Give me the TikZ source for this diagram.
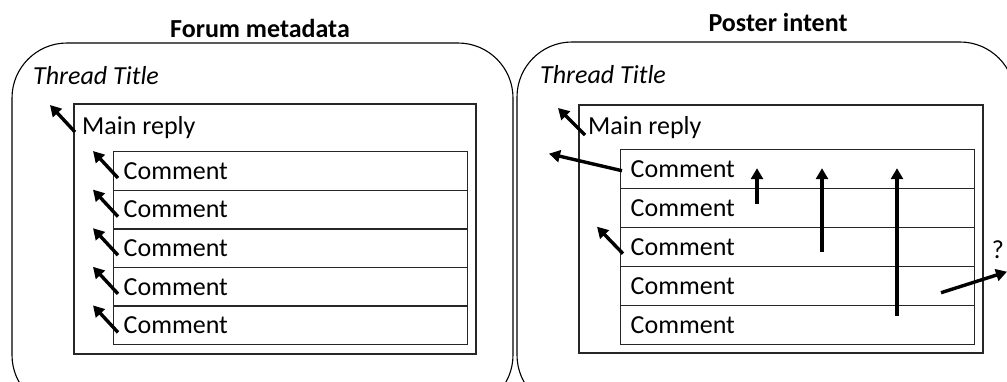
\documentclass[tikz,border=0pt]{standalone}
\usepackage{fontspec}
\setmainfont{Carlito}
\usetikzlibrary{arrows.meta,calc}
\begin{document}
\begin{tikzpicture}[x=1bp,y=-1bp,
  txt/.style={font=\fontsize{26bp}{30bp}\selectfont, inner sep=0pt},
  ttl/.style={font=\fontsize{26bp}{30bp}\selectfont\bfseries, inner sep=0pt},
  panel/.style={draw=black, line width=1.1bp, rounded corners=55bp},
  replybox/.style={draw=black!85, line width=1.6bp, inner sep=0pt},
  rowbox/.style={draw=black!85, line width=1.4bp, anchor=north west,
    minimum width=354bp, text width=334bp, inner xsep=10bp, inner ysep=0pt,
    align=left, font=\fontsize{26bp}{30bp}\selectfont},
  arr/.style={line width=3.4bp, -{Triangle[length=11bp,width=12bp]}}
]
\useasboundingbox (0,0) rectangle (1007,381);
\clip (0,0) rectangle (1007,381);

% ---------- left panel: forum metadata ----------
\node[ttl] (ltitle) at (260,28) {Forum metadata};
\draw[panel] (12,43) rectangle (513,410);
\node[txt, anchor=west] (lthread) at (33,76) {\itshape Thread Title};
\node[replybox, anchor=north west, minimum width=402bp, minimum height=250bp] (lmain) at (73,103) {};
\node[txt, anchor=west] (lmaint) at (82,128) {Main reply};
\foreach \i in {1,...,5} {
  \node[rowbox, minimum height=38.6bp] (L\i) at (113,{151+38.6*(\i-1)}) {Comment};
}
\draw[arr] ($(lmaint.west)+(-7,4)$) -- ($(lmaint.west)+(-32,-23)$);
\foreach \i in {1,...,5} {
  \draw[arr] ($(L\i.west)+(5,7)$) -- ($(L\i.west)+(-20,-20)$);
}

% ---------- right panel: poster intent ----------
\node[ttl] (rtitle) at (778,22) {Poster intent};
\draw[panel] (517,42) rectangle (1015,410);
\node[txt, anchor=west] (rthread) at (540,75) {\itshape Thread Title};
\node[replybox, anchor=north west, minimum width=404bp, minimum height=248bp] (rmain) at (578,104) {};
\node[txt, anchor=west] (rmaint) at (588,128) {Main reply};
\foreach \i in {1,...,5} {
  \node[rowbox, minimum height=39bp] (R\i) at (620,{149+39*(\i-1)}) {Comment};
}
\draw[arr] ($(rmaint.west)+(-3,7)$) -- ($(rmaint.west)+(-30,-20)$);
\draw[arr] ($(R1.west)+(2,1.5)$) -- ($(R1.west)+(-71,-15.5)$);
\draw[arr] ($(R3.west)+(3,6.5)$) -- ($(R3.west)+(-23,-20.5)$);
\draw[arr] ($(R2.west)+(137,-4.5)$) -- ($(R1.west)+(137,-1)$);
\draw[arr] ($(R3.west)+(202,4.5)$) -- ($(R1.west)+(202,-1)$);
\draw[arr] ($(R5.west)+(277,-9.5)$) -- ($(R1.west)+(277,-1)$);
\node[txt] (q) at (998,250) {?};
\draw[arr] ($(R4.west)+(321,6.5)$) -- ($(R4.west)+(387,-14.5)$);
\end{tikzpicture}
\end{document}
